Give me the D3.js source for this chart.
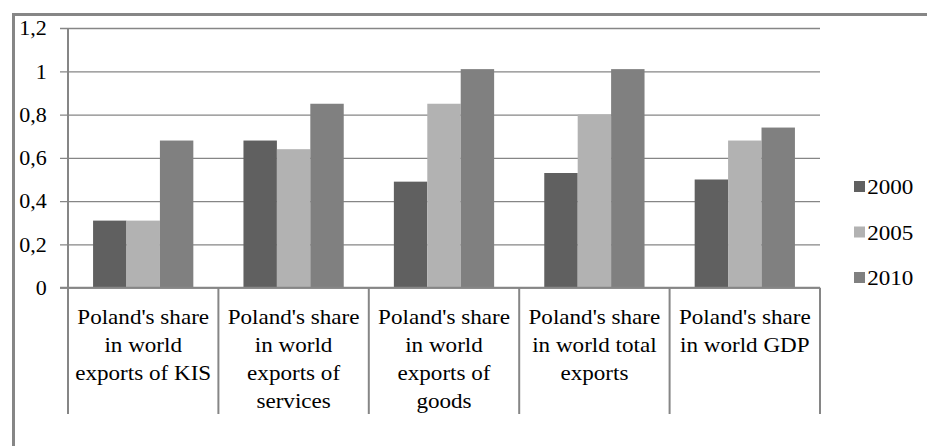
<!DOCTYPE html>
<html>
<head>
<meta charset="utf-8">
<script src="https://cdn.jsdelivr.net/npm/d3@7"></script>
</head>
<body style="margin:0">
<script>
// data
const categories = ["kis", "services", "goods", "total", "gdp"];
const categoryLabels = [
  ["Poland's share", "in world", "exports of KIS"],
  ["Poland's share", "in world", "exports of", "services"],
  ["Poland's share", "in world", "exports of", "goods"],
  ["Poland's share", "in world total", "exports"],
  ["Poland's share", "in world GDP"]
];
const years = ["2000", "2005", "2010"];
const values2000 = [0.31, 0.68, 0.49, 0.53, 0.50];
const values2005 = [0.31, 0.64, 0.85, 0.80, 0.68];
const values2010 = [0.68, 0.85, 1.01, 1.01, 0.74];
const yTicks = [0, 0.2, 0.4, 0.6, 0.8, 1, 1.2];

const colors = {"2000": "#606060", "2005": "#b2b2b2", "2010": "#808080"};
const lineColor = "#868686";
const serif = '"Times New Roman"';

const W = 927, H = 446;
const margin = {top: 28, left: 68, right: 107, bottom: 158};

const svg = d3.select('body').append('svg')
  .attr('width', W)
  .attr('height', H)
  .style('display', 'block');

svg.append('rect').attr('width', W).attr('height', H).attr('fill', '#fff');

// outer frame (runs off the right and bottom edge)
svg.append('rect')
  .attr('x', 13.5).attr('y', 14.5)
  .attr('width', W + 50).attr('height', H + 50)
  .attr('fill', 'none')
  .attr('stroke', lineColor)
  .attr('stroke-width', 3);

const x = d3.scaleBand()
  .domain(categories)
  .range([margin.left, W - margin.right]);

const bw = x.bandwidth();
const xIn = d3.scaleBand()
  .domain(years)
  .range([bw / 6, bw * 5 / 6]);

const y = d3.scaleLinear()
  .domain([0, 1.2])
  .range([H - margin.bottom - 0.3, margin.top]);

const fmt = d => String(d).replace('.', ',');

// gridlines + y labels
const yAxis = d3.axisLeft(y)
  .tickValues(yTicks)
  .tickSize(-(W - margin.right - margin.left + 8))
  .tickPadding(12)
  .tickFormat(fmt);

const gy = svg.append('g')
  .attr('transform', `translate(${margin.left - 8},0)`)
  .call(yAxis)
  .attr('font-family', serif);
gy.select('.domain').remove();
gy.selectAll('.tick line')
  .attr('stroke', lineColor)
  .attr('stroke-width', 1.3);
gy.selectAll('.tick text')
  .attr('dy', '0.34em')
  .attr('transform', 'scale(1.1,1)')
  .style('font-family', serif)
  .style('font-size', '20px')
  .attr('fill', '#000');

const series = years.map((yr, i) => ({
  year: yr,
  values: [values2000, values2005, values2010][i]
}));

// bars
const bars = svg.append('g').attr('class', 'bars');
series.forEach(s => {
  bars.selectAll(`.bar-${s.year}`)
    .data(s.values.map((v, i) => ({cat: categories[i], v})))
    .enter().append('rect')
    .attr('class', `bar-${s.year}`)
    .attr('x', d => x(d.cat) + xIn(s.year))
    .attr('width', xIn.bandwidth())
    .attr('y', d => y(d.v))
    .attr('height', d => y(0) - y(d.v))
    .attr('fill', colors[s.year]);
});

// y axis line
svg.append('line')
  .attr('x1', margin.left).attr('x2', margin.left)
  .attr('y1', y(1.2)).attr('y2', y(0))
  .attr('stroke', lineColor).attr('stroke-width', 2);

// x axis line
svg.append('line')
  .attr('x1', margin.left - 8).attr('x2', W - margin.right)
  .attr('y1', y(0)).attr('y2', y(0))
  .attr('stroke', lineColor).attr('stroke-width', 2);

// category separators under the axis
const bounds = categories.map(c => x(c)).concat([x(categories[categories.length - 1]) + bw]);
svg.append('g').selectAll('line')
  .data(bounds)
  .enter().append('line')
  .attr('x1', d => d).attr('x2', d => d)
  .attr('y1', y(0)).attr('y2', 414)
  .attr('stroke', lineColor).attr('stroke-width', 2);

// category labels
const labels = svg.append('g').selectAll('text')
  .data(categories)
  .enter().append('text')
  .attr('text-anchor', 'middle')
  .style('font-family', serif)
  .style('font-size', '21px')
  .attr('transform', d => `translate(${x(d) + bw / 2},324) scale(1.1,1)`);

labels.selectAll('tspan')
  .data((d, i) => categoryLabels[i])
  .enter().append('tspan')
  .attr('x', 0)
  .attr('y', (d, i) => i * 28)
  .text(d => d);

// legend
const legend = svg.append('g').selectAll('g')
  .data(years)
  .enter().append('g')
  .attr('transform', (d, i) => `translate(854,${187 + i * 45.5})`);

legend.append('rect')
  .attr('x', 0).attr('y', -6)
  .attr('width', 11).attr('height', 11)
  .attr('fill', d => colors[d]);

legend.append('text')
  .attr('x', 12)
  .attr('y', 7)
  .attr('transform', 'scale(1.1,1)')
  .style('font-family', serif)
  .style('font-size', '21px')
  .text(d => d);
</script>
</body>
</html>
